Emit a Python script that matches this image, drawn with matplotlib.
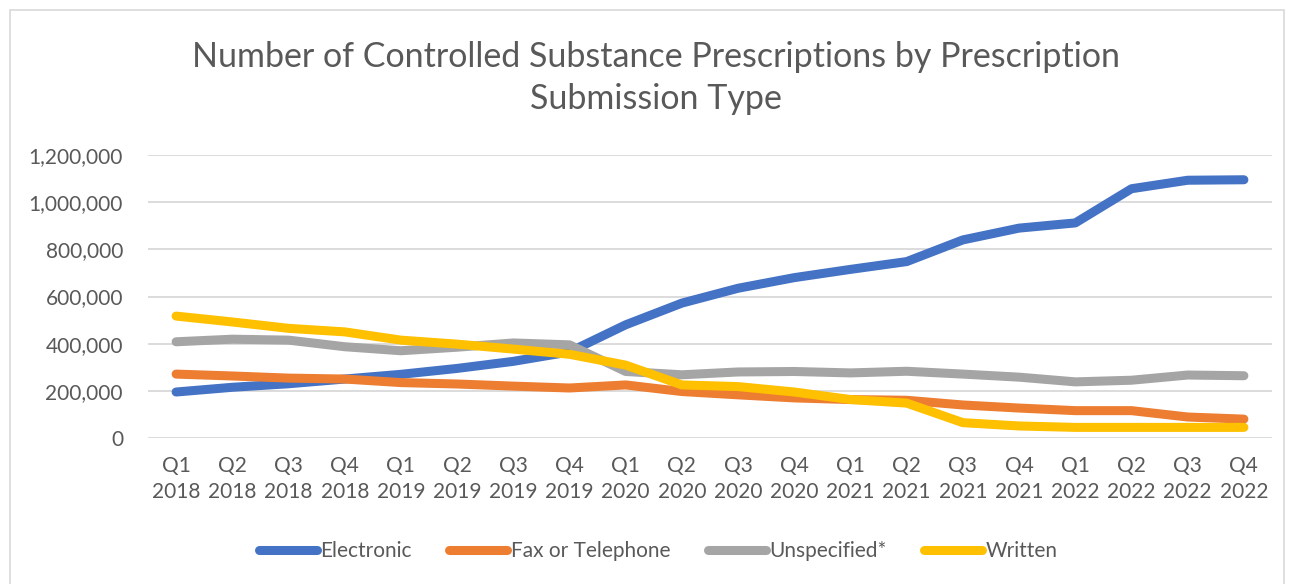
import matplotlib.pyplot as plt
from matplotlib.patches import Rectangle

plt.rcParams['font.family'] = ['Lato', 'DejaVu Sans']

quarters = ["Q1", "Q2", "Q3", "Q4"] * 5
years = [str(y) for y in range(2018, 2023) for _ in range(4)]
tick_labels = [f"{q}\n{y}" for q, y in zip(quarters, years)]

electronic = [195000, 215000, 230000, 250000, 270000, 295000, 325000, 365000,
              480000, 572000, 635000, 680000, 715000, 748000, 840000, 890000,
              912000, 1057000, 1093000, 1095000]
fax_phone = [271000, 263000, 254000, 250000, 235000, 229000, 220000, 212000,
             225000, 197000, 183000, 170000, 163000, 160000, 140000, 127000,
             116000, 116000, 89000, 80000]
unspecified = [408000, 419000, 415000, 387000, 370000, 385000, 403000, 395000,
               282000, 268000, 280000, 282000, 276000, 283000, 271000, 258000,
               238000, 245000, 267000, 264000]
written = [517000, 492000, 465000, 450000, 415000, 398000, 377000, 355000,
           309000, 225000, 218000, 195000, 163000, 148000, 65000, 51000,
           45000, 45000, 45000, 45000]

series = [
    ("Electronic", electronic, "#4472c4"),
    ("Fax or Telephone", fax_phone, "#ed7d31"),
    ("Unspecified*", unspecified, "#a5a5a5"),
    ("Written", written, "#ffc000"),
]

W, H = 1295, 584
fig = plt.figure(figsize=(W / 100, H / 100), dpi=100)
ax = fig.add_axes([148 / W, 1 - 438 / H, (1272 - 148) / W, (438 - 155) / H])

x = range(len(tick_labels))
for name, vals, color in series:
    ax.plot(x, vals, color=color, linewidth=6.5, solid_capstyle='round',
            solid_joinstyle='round', label=name)

ax.set_xlim(-0.5, len(tick_labels) - 0.5)
ax.set_ylim(0, 1200000)
ax.set_yticks(range(0, 1200001, 200000))
ax.set_yticklabels([f"{v:,}" for v in range(0, 1200001, 200000)])
ax.set_xticks(list(x))
ax.set_xticklabels(tick_labels, linespacing=1.35)
ax.tick_params(axis='both', length=0, labelsize=15, colors='#595959')
ax.tick_params(axis='y', pad=18)
ax.tick_params(axis='x', pad=13)
ax.grid(axis='y', color='#d9d9d9', linewidth=1.3)
ax.set_axisbelow(True)
for s in ax.spines.values():
    s.set_visible(False)

fig.text(656 / W, 1 - 78 / H,
         "Number of Controlled Substance Prescriptions by Prescription\nSubmission Type",
         ha='center', va='center', fontsize=24.5, color='#595959', linespacing=1.42)

leg = fig.legend(loc='center', bbox_to_anchor=(658 / W, 1 - 551 / H), ncol=4,
                 frameon=False, fontsize=15, handlelength=2.8, handletextpad=0.15,
                 columnspacing=1.8)
for t in leg.get_texts():
    t.set_color('#595959')

fig.patches.append(Rectangle((10 / W, -0.01), (1284 - 10) / W, 1 - 10 / H + 0.01,
                             transform=fig.transFigure, fill=False,
                             edgecolor='#d9d9d9', linewidth=1.2))

fig.savefig("out.png", dpi=100)
